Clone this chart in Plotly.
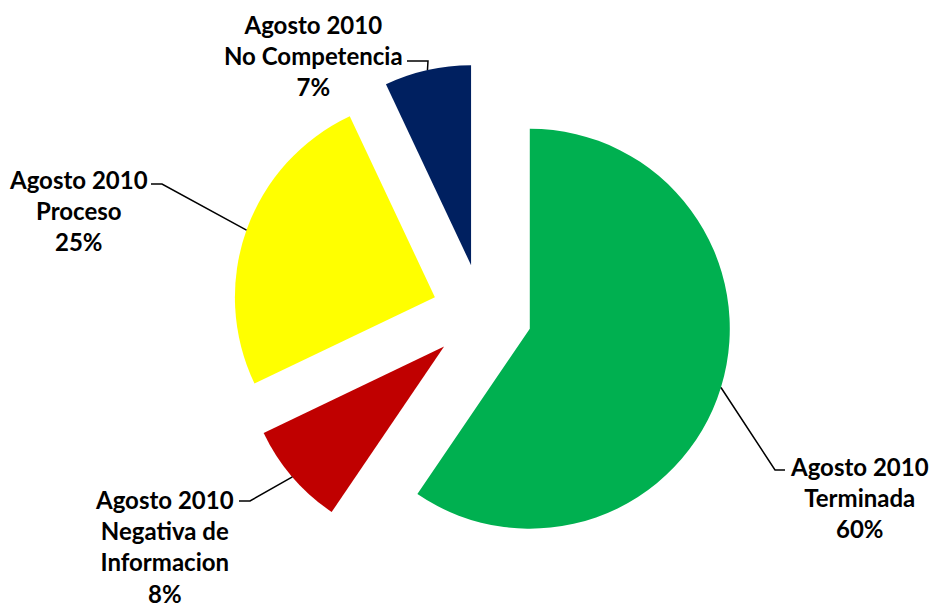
import math
import plotly.graph_objects as go

# ---- data ----
categories = ["Agosto 2010<br>Terminada", "Agosto 2010<br>Negativa de<br>Informacion",
              "Agosto 2010<br>Proceso", "Agosto 2010<br>No Competencia"]
values = [59.5, 8.4, 25.1, 7.0]
colors = ["#00B050", "#C00000", "#FFFF00", "#002060"]

# ---- layout constants (pixels) ----
W, H = 931, 607
CX, CY = 482.0, 314.0      # pie centre
R = 200                    # slice radius
PULL = 0.25                # pull as fraction of radius
BOX = 2 * R * (1 + PULL)   # pie box size

# label placement (pixels): text centre, leader elbow, leader end
label_pos = [
    dict(tx=859, ty=497, elbow=(775, 470), end=(785, 470)),
    dict(tx=164, ty=546, elbow=(250, 501), end=(239, 501)),
    dict(tx=78, ty=210, elbow=(162, 184), end=(151, 184)),
    dict(tx=313, ty=56, elbow=(428, 61), end=(407, 61)),
]

def px(x):
    return x / W

def py(y):
    return 1 - y / H

fig = go.Figure(go.Pie(
    labels=categories,
    values=values,
    marker=dict(colors=colors, line=dict(width=0)),
    pull=[PULL] * len(values),
    sort=False,
    direction="clockwise",
    rotation=0,
    textinfo="none",
    hoverinfo="label+percent",
    domain=dict(x=[px(CX - BOX / 2), px(CX + BOX / 2)],
                y=[py(CY + BOX / 2), py(CY - BOX / 2)]),
))

total = sum(values)
cum = 0
annotations = []
shapes = []
for lab, v, pos in zip(categories, values, label_pos):
    mid = (cum + v / 2) / total * 2 * math.pi
    cum += v
    ax = CX + R * (1 + PULL) * math.sin(mid)
    ay = CY - R * (1 + PULL) * math.cos(mid)
    pct = round(v / total * 100)
    annotations.append(dict(
        x=px(pos["tx"]), y=py(pos["ty"]), xref="paper", yref="paper",
        text=f"{lab}<br>{pct}%", showarrow=False,
        xanchor="center", yanchor="middle", align="center",
        font=dict(family="Lato", size=24, color="#000000", weight="bold"),
    ))
    ex, ey = pos["elbow"]
    nx, ny = pos["end"]
    shapes.append(dict(
        type="path", xref="paper", yref="paper",
        path=f"M {px(ax)} {py(ay)} L {px(ex)} {py(ey)} L {px(nx)} {py(ny)}",
        line=dict(color="#000000", width=1.5),
    ))

fig.update_layout(
    width=W, height=H,
    margin=dict(l=0, r=0, t=0, b=0),
    paper_bgcolor="#FFFFFF",
    plot_bgcolor="#FFFFFF",
    showlegend=False,
    annotations=annotations,
    shapes=shapes,
)

fig.write_html("out.html",
               config={"displayModeBar": False},
               post_script="document.body.style.margin='0px';document.body.style.padding='0px';")
